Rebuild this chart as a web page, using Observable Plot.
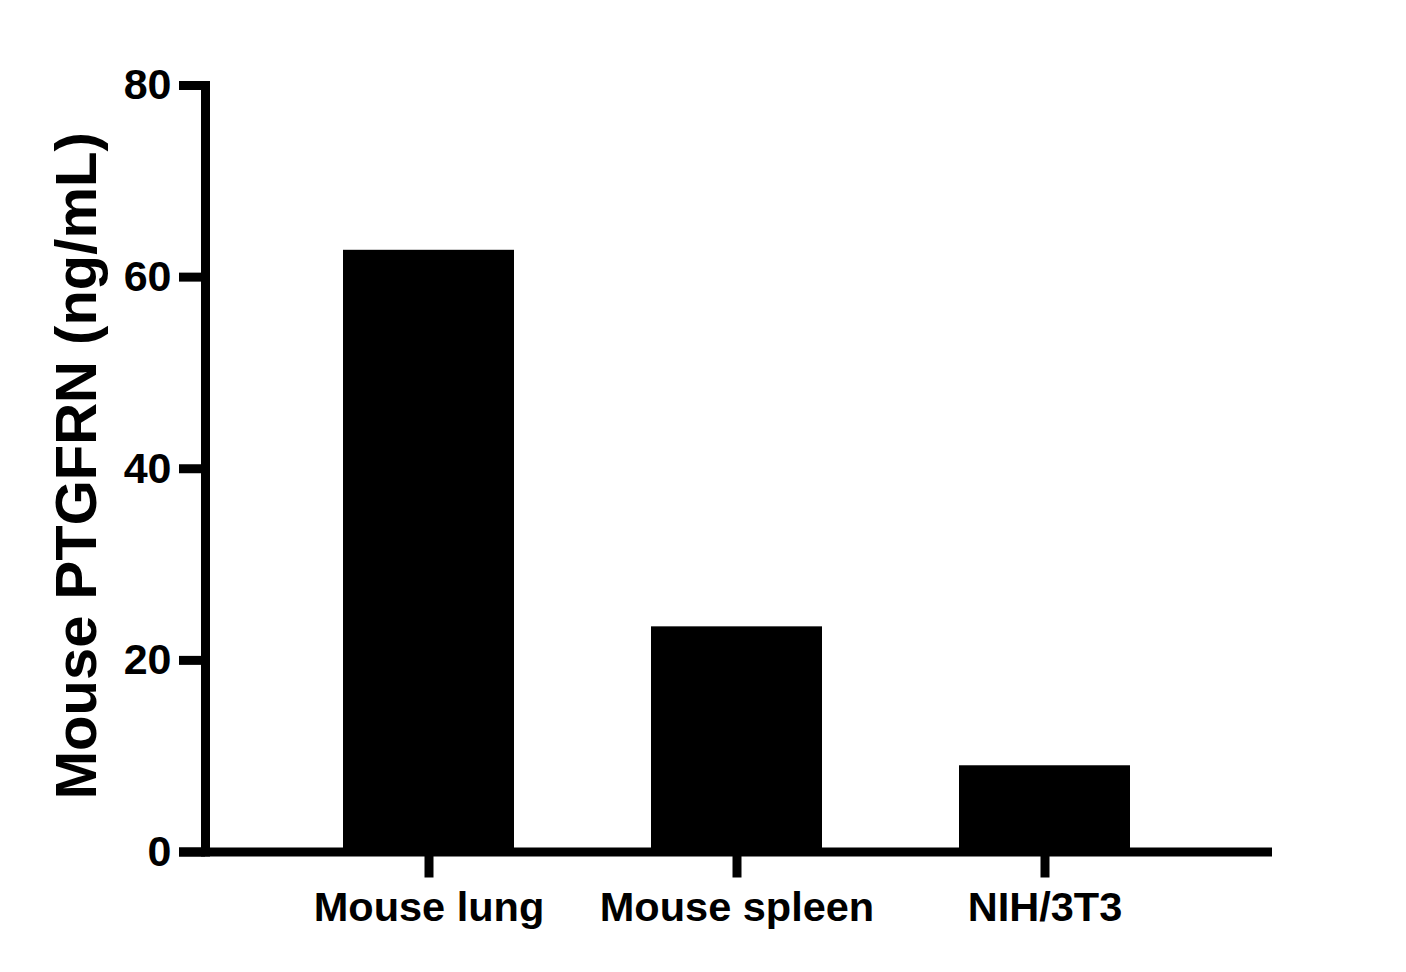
<!DOCTYPE html>
<html>
<head>
<meta charset="utf-8">
<script src="https://cdn.jsdelivr.net/npm/d3@7"></script>
<script src="https://cdn.jsdelivr.net/npm/@observablehq/plot@0.6"></script>
<style>
  html, body { margin: 0; padding: 0; background: #fff; }
</style>
</head>
<body>
<div id="chart"></div>
<script>
const categories = ["Mouse lung", "Mouse spleen", "NIH/3T3"];
const values = [62.8, 23.5, 9.0];
const yTicks = [0, 20, 40, 60, 80];
const yLabel = "Mouse PTGFRN (ng/mL)";

const data = categories.map((c, i) => ({category: c, value: values[i]}));

const chart = Plot.plot({
  width: 1406,
  height: 972,
  marginTop: 85,
  marginBottom: 120.5,
  marginLeft: 205,
  marginRight: 139,
  style: {
    fontFamily: "'Liberation Sans', Arial, sans-serif",
    fontWeight: "bold",
    color: "black",
    background: "white"
  },
  x: {domain: categories, paddingInner: 0.445, paddingOuter: 0.4465},
  y: {domain: [0, 80]},
  marks: [
    Plot.barY(data, {x: "category", y: "value", fill: "black"}),
    Plot.axisY({
      ticks: yTicks,
      tickSize: 26,
      tickPadding: 8,
      strokeWidth: 9,
      fontSize: 43,
      label: null
    }),
    Plot.axisX({
      tickSize: 26,
      tickPadding: 14,
      strokeWidth: 9,
      fontSize: 41.5,
      label: null
    }),
    Plot.text([yLabel], {
      frameAnchor: "left",
      textAnchor: "middle",
      rotate: -90,
      dx: -128,
      dy: -3,
      fontSize: 58,
      fontWeight: "bold",
      fill: "black"
    }),
    Plot.ruleY([0], {stroke: "black", strokeWidth: 9, insetLeft: -26, insetRight: -5}),
    Plot.frame({anchor: "left", stroke: "black", strokeWidth: 9})
  ]
});
document.getElementById("chart").appendChild(chart);
</script>
</body>
</html>
